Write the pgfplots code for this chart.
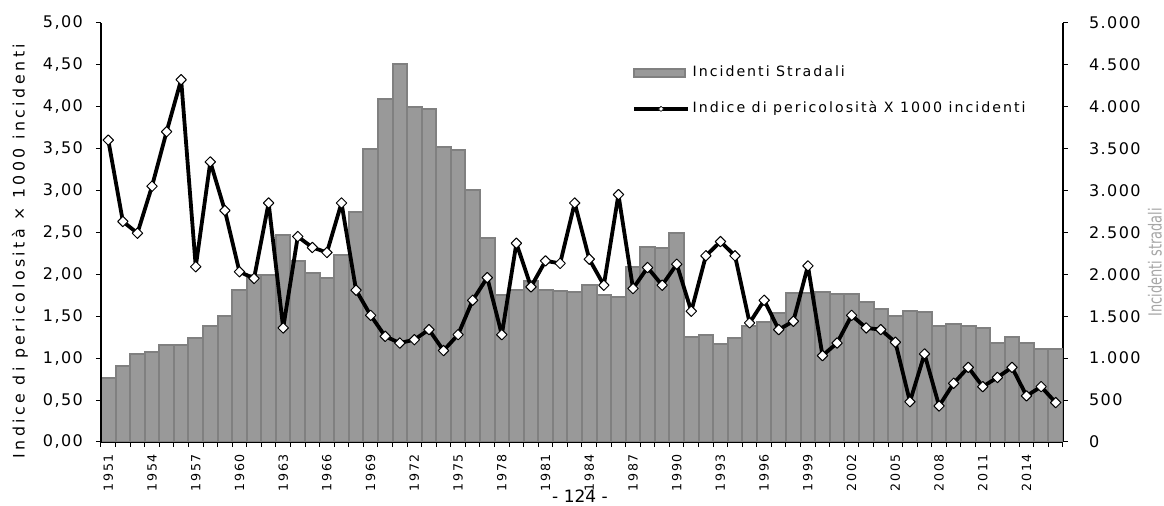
\documentclass[border=0pt]{standalone}
\usepackage{fontspec}
\setmainfont{DejaVu Sans}
\newfontfamily\tickfont[LetterSpace=9]{DejaVu Sans}
\newfontfamily\xfont[LetterSpace=15]{DejaVu Sans}
\newfontfamily\labfont[LetterSpace=22]{DejaVu Sans}
\newfontfamily\legfont[LetterSpace=14]{DejaVu Sans}
\usepackage{pgfplots}
\pgfplotsset{compat=1.18}
\definecolor{barfill}{RGB}{153,153,153}
\definecolor{baredge}{RGB}{128,128,128}
\definecolor{labgray}{RGB}{166,166,166}
\begin{document}
\begin{tikzpicture}
\begin{axis}[
  at={(0,0)}, anchor=south west,
  scale only axis, width=481pt, height=209.65pt,
  xmin=1950.5, xmax=2016.5, ymin=0, ymax=5000,
  axis y line*=right, axis x line*=bottom,
  axis line style={black, line width=0.6pt},
  ytick={0,500,1000,1500,2000,2500,3000,3500,4000,4500,5000},
  /pgf/number format/assume math mode=true,
  yticklabel style={xshift=7pt, font=\tickfont\fontsize{8pt}{9pt}\selectfont, /pgf/number format/.cd, fixed, precision=0, 1000 sep={.}},
  xtick={1950.5,1951.5,...,2016.5},
  xticklabels={1951,,,1954,,,1957,,,1960,,,1963,,,1966,,,1969,,,1972,,,1975,,,1978,,,1981,,,1984,,,1987,,,1990,,,1993,,,1996,,,1999,,,2002,,,2005,,,2008,,,2011,,,2014,,,},
  xticklabel style={xshift=3.645pt, rotate=90, anchor=east, font=\xfont\fontsize{6.3pt}{7pt}\selectfont},
  tick align=outside, major tick length=2.5pt,
  tick style={black, line width=0.5pt},
  every axis y label/.style={at={(axis description cs:1.0956,0.429)}, anchor=center, rotate=90},
  ylabel={\scalebox{0.72}[1]{Incidenti stradali}},
  ylabel style={font=\fontsize{9pt}{10pt}\selectfont, color=labgray},
]
\addplot[ybar, bar width=1, fill=barfill, draw=baredge, line width=1pt] coordinates {
(1951,762) (1952,909) (1953,1048) (1954,1076) (1955,1152) (1956,1152) (1957,1239) (1958,1378) (1959,1505) (1960,1811)
(1961,1994) (1962,1994) (1963,2466) (1964,2160) (1965,2013) (1966,1954) (1967,2224) (1968,2740) (1969,3495) (1970,4091)
(1971,4504) (1972,3991) (1973,3971) (1974,3523) (1975,3479) (1976,3002) (1977,2430) (1978,1755) (1979,1815) (1980,1914)
(1981,1815) (1982,1795) (1983,1787) (1984,1874) (1985,1747) (1986,1727) (1987,2085) (1988,2323) (1989,2311) (1990,2490)
(1991,1251) (1992,1279) (1993,1172) (1994,1239) (1995,1378) (1996,1426) (1997,1537) (1998,1775) (1999,1775) (2000,1787)
(2001,1767) (2002,1767) (2003,1668) (2004,1589) (2005,1505) (2006,1565) (2007,1545) (2008,1386) (2009,1406) (2010,1386)
(2011,1358) (2012,1178) (2013,1250) (2014,1178) (2015,1107) (2016,1107)
};
\end{axis}
\begin{axis}[
  at={(0,0)}, anchor=south west,
  scale only axis, width=481pt, height=209.65pt,
  xmin=1950.5, xmax=2016.5, ymin=0, ymax=5,
  axis y line*=left, axis x line=none,
  axis line style={black, line width=0.6pt},
  ytick={0,0.5,1,1.5,2,2.5,3,3.5,4,4.5,5},
  /pgf/number format/assume math mode=true,
  yticklabel style={xshift=-3pt, font=\tickfont\fontsize{8pt}{9pt}\selectfont, /pgf/number format/.cd, fixed, fixed zerofill, precision=2, use comma},
  tick align=outside, major tick length=2.5pt,
  tick style={black, line width=0.5pt},
  every axis y label/.style={at={(axis description cs:-0.0842,0.455)}, anchor=center, rotate=90},
  ylabel={Indice di pericolosità × 1000 incidenti},
  ylabel style={font=\labfont\fontsize{7.9pt}{9pt}\selectfont},
  legend style={at={(axis description cs:0.552,0.905)}, anchor=north west, draw=none, fill=none,
    font=\legfont\fontsize{7.1pt}{8pt}\selectfont, row sep=8pt, inner sep=0pt,
    nodes={inner sep=1.5pt, text height=5.5pt, text depth=1.5pt}},
  legend cell align=left,
]
\addlegendimage{legend image code/.code={\draw[fill=barfill, draw=baredge, line width=0.8pt] (0pt,-2pt) rectangle (25.5pt,2pt);}}
\addlegendentry{Incidenti Stradali}
\addplot[black, line width=1.9pt, line join=round, mark=square*, mark size=1.85pt,
  mark options={rotate=45, fill=white, draw=black, line width=0.5pt, solid},
  legend image code/.code={\draw[line width=1.6pt, black] (0pt,0pt) -- (27pt,0pt);
    \draw[fill=white, draw=black, line width=0.3pt] (13.5pt,1.3pt) -- (14.8pt,0pt) -- (13.5pt,-1.3pt) -- (12.2pt,0pt) -- cycle;}
] coordinates {
(1951,3.60) (1952,2.63) (1953,2.49) (1954,3.05) (1955,3.70) (1956,4.32) (1957,2.09) (1958,3.34) (1959,2.76) (1960,2.03)
(1961,1.95) (1962,2.85) (1963,1.36) (1964,2.45) (1965,2.32) (1966,2.26) (1967,2.85) (1968,1.81) (1969,1.51) (1970,1.26)
(1971,1.18) (1972,1.22) (1973,1.34) (1974,1.09) (1975,1.28) (1976,1.69) (1977,1.96) (1978,1.28) (1979,2.37) (1980,1.85)
(1981,2.16) (1982,2.13) (1983,2.85) (1984,2.18) (1985,1.87) (1986,2.95) (1987,1.83) (1988,2.08) (1989,1.87) (1990,2.12)
(1991,1.56) (1992,2.22) (1993,2.39) (1994,2.22) (1995,1.42) (1996,1.69) (1997,1.34) (1998,1.44) (1999,2.10) (2000,1.03)
(2001,1.18) (2002,1.51) (2003,1.36) (2004,1.34) (2005,1.19) (2006,0.48) (2007,1.05) (2008,0.43) (2009,0.70) (2010,0.89)
(2011,0.66) (2012,0.77) (2013,0.89) (2014,0.55) (2015,0.66) (2016,0.47)
};
\addlegendentry{Indice di pericolosità X 1000 incidenti}
\end{axis}
\node[anchor=north, inner sep=0pt, font=\fontsize{8.5pt}{10pt}\selectfont] at (239.5pt,-23.5pt) {- 124 -};
\pgfresetboundingbox
\path[use as bounding box] (-50.5pt,-32pt) rectangle (531.5pt,221pt);
\end{tikzpicture}
\end{document}
